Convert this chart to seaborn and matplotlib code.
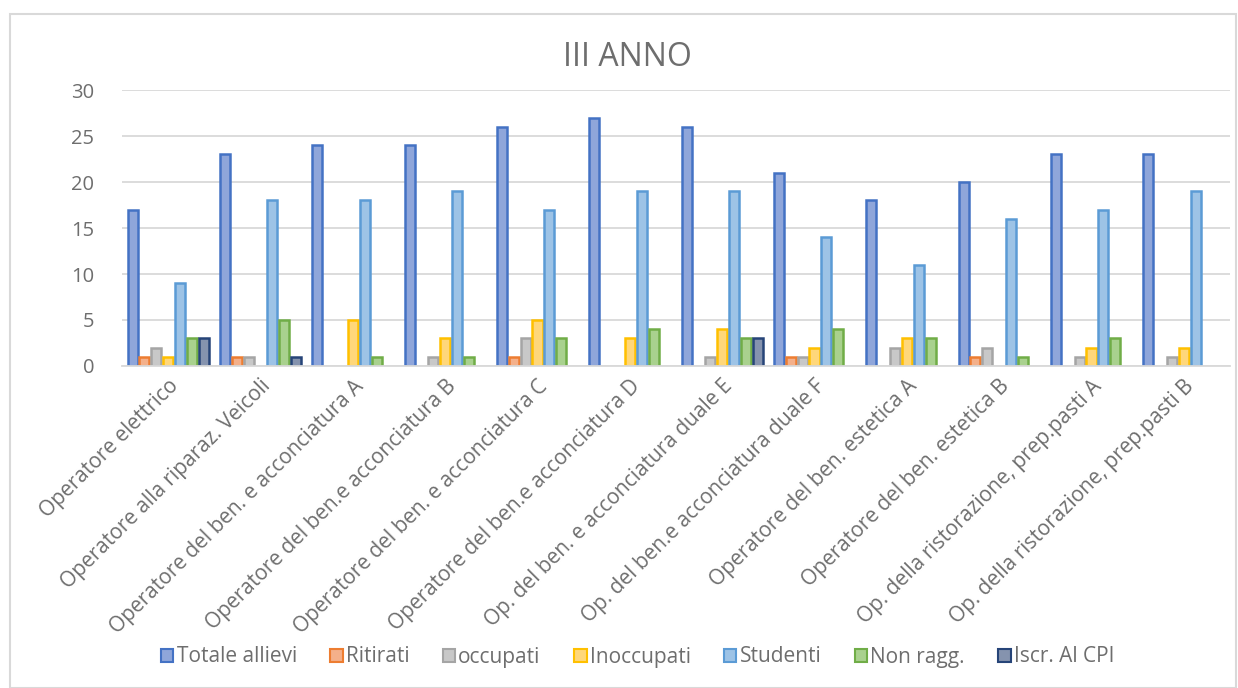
import matplotlib
matplotlib.use("Agg")
import matplotlib.pyplot as plt
import seaborn as sns
import pandas as pd
from matplotlib.patches import Rectangle, Patch

categories = [
    "Operatore elettrico",
    "Operatore alla riparaz. Veicoli",
    "Operatore del ben. e acconciatura A",
    "Operatore del ben.e acconciatura B",
    "Operatore del ben. e acconciatura C",
    "Operatore del ben.e acconciatura D",
    "Op. del ben. e acconciatura duale E",
    "Op. del ben.e acconciatura duale F",
    "Operatore del ben. estetica A",
    "Operatore del ben. estetica B",
    "Op. della ristorazione, prep.pasti A",
    "Op. della ristorazione, prep.pasti B",
]
series_names = ["Totale allievi", "Ritirati", "occupati", "Inoccupati",
                "Studenti", "Non ragg.", "Iscr. Al CPI"]
totale = [17, 23, 24, 24, 26, 27, 26, 21, 18, 20, 23, 23]
ritirati = [1, 1, 0, 0, 1, 0, 0, 1, 0, 1, 0, 0]
occupati = [2, 1, 0, 1, 3, 0, 1, 1, 2, 2, 1, 1]
inoccupati = [1, 0, 5, 3, 5, 3, 4, 2, 3, 0, 2, 2]
studenti = [9, 18, 18, 19, 17, 19, 19, 14, 11, 16, 17, 19]
non_ragg = [3, 5, 1, 1, 3, 4, 3, 4, 3, 1, 3, 0]
iscr_cpi = [3, 1, 0, 0, 0, 0, 3, 0, 0, 0, 0, 0]
yticks = [0, 5, 10, 15, 20, 25, 30]

face_colors = ["#8FA6DA", "#F4B08A", "#C8C8C8", "#FFD77A", "#9DC3E6", "#A9D18E", "#8593AE"]
edge_colors = ["#4472C4", "#ED7D31", "#A5A5A5", "#FFC000", "#5B9BD5", "#70AD47", "#264478"]
text_color = "#6E6E6E"

all_values = [totale, ritirati, occupati, inoccupati, studenti, non_ragg, iscr_cpi]
rows = []
for name, vals in zip(series_names, all_values):
    for c, v in zip(categories, vals):
        rows.append({"cat": c, "serie": name, "val": v})
df = pd.DataFrame(rows)

sns.set_theme(style="white")
plt.rcParams["font.family"] = ["Open Sans", "DejaVu Sans"]

fig = plt.figure(figsize=(12.38, 6.88), dpi=100)
ax = fig.add_axes([122 / 1238, 1 - 366 / 688, (1230 - 122) / 1238, (366 - 90) / 688])

sns.barplot(data=df, x="cat", y="val", hue="serie", order=categories,
            hue_order=series_names, palette=face_colors, width=0.9, gap=0.15,
            linewidth=1.8, ax=ax, legend=False, errorbar=None)

bars = [p for p in ax.patches if isinstance(p, Rectangle)]
n = len(categories)
for i, p in enumerate(bars):
    s = i // n
    p.set_edgecolor(edge_colors[s])
    p.set_facecolor(face_colors[s])
    if p.get_height() == 0:
        p.set_visible(False)

ax.set_ylim(0, 30)
ax.set_xlim(-0.5, n - 0.5)
ax.set_yticks(yticks)
ax.yaxis.grid(True, color="#D9D9D9", linewidth=1.3)
ax.set_axisbelow(True)
for side in ["top", "right", "left"]:
    ax.spines[side].set_visible(False)
ax.spines["bottom"].set_color("#D9D9D9")
ax.spines["bottom"].set_linewidth(1.3)
ax.tick_params(axis="y", length=0, pad=20, labelsize=14.5, labelcolor=text_color)
ax.tick_params(axis="x", length=0, pad=7, labelsize=15, labelcolor=text_color)
ax.set_xticks(range(n))
ax.set_xticklabels(categories, rotation=45, ha="right", rotation_mode="anchor")
ax.set_xlabel("")
ax.set_ylabel("")

fig.text(0.507, 1 - 58 / 688, "III ANNO", ha="center", va="center",
         fontsize=23, color=text_color)

handles = [Patch(facecolor=f, edgecolor=e, linewidth=1.5) for f, e in zip(face_colors, edge_colors)]
fig.legend(handles, series_names, loc="center", bbox_to_anchor=(0.515, 1 - 657 / 688),
           ncol=7, frameon=False, fontsize=15, handlelength=0.6, handleheight=0.6,
           handletextpad=0.15, columnspacing=1.6, labelcolor=text_color)

fig.patches.append(Rectangle((10 / 1238, 0), (1236 - 10) / 1238, 1 - 14 / 688,
                             transform=fig.transFigure, fill=False,
                             edgecolor="#D9D9D9", linewidth=1.5))

fig.savefig("out.png", dpi=100)
